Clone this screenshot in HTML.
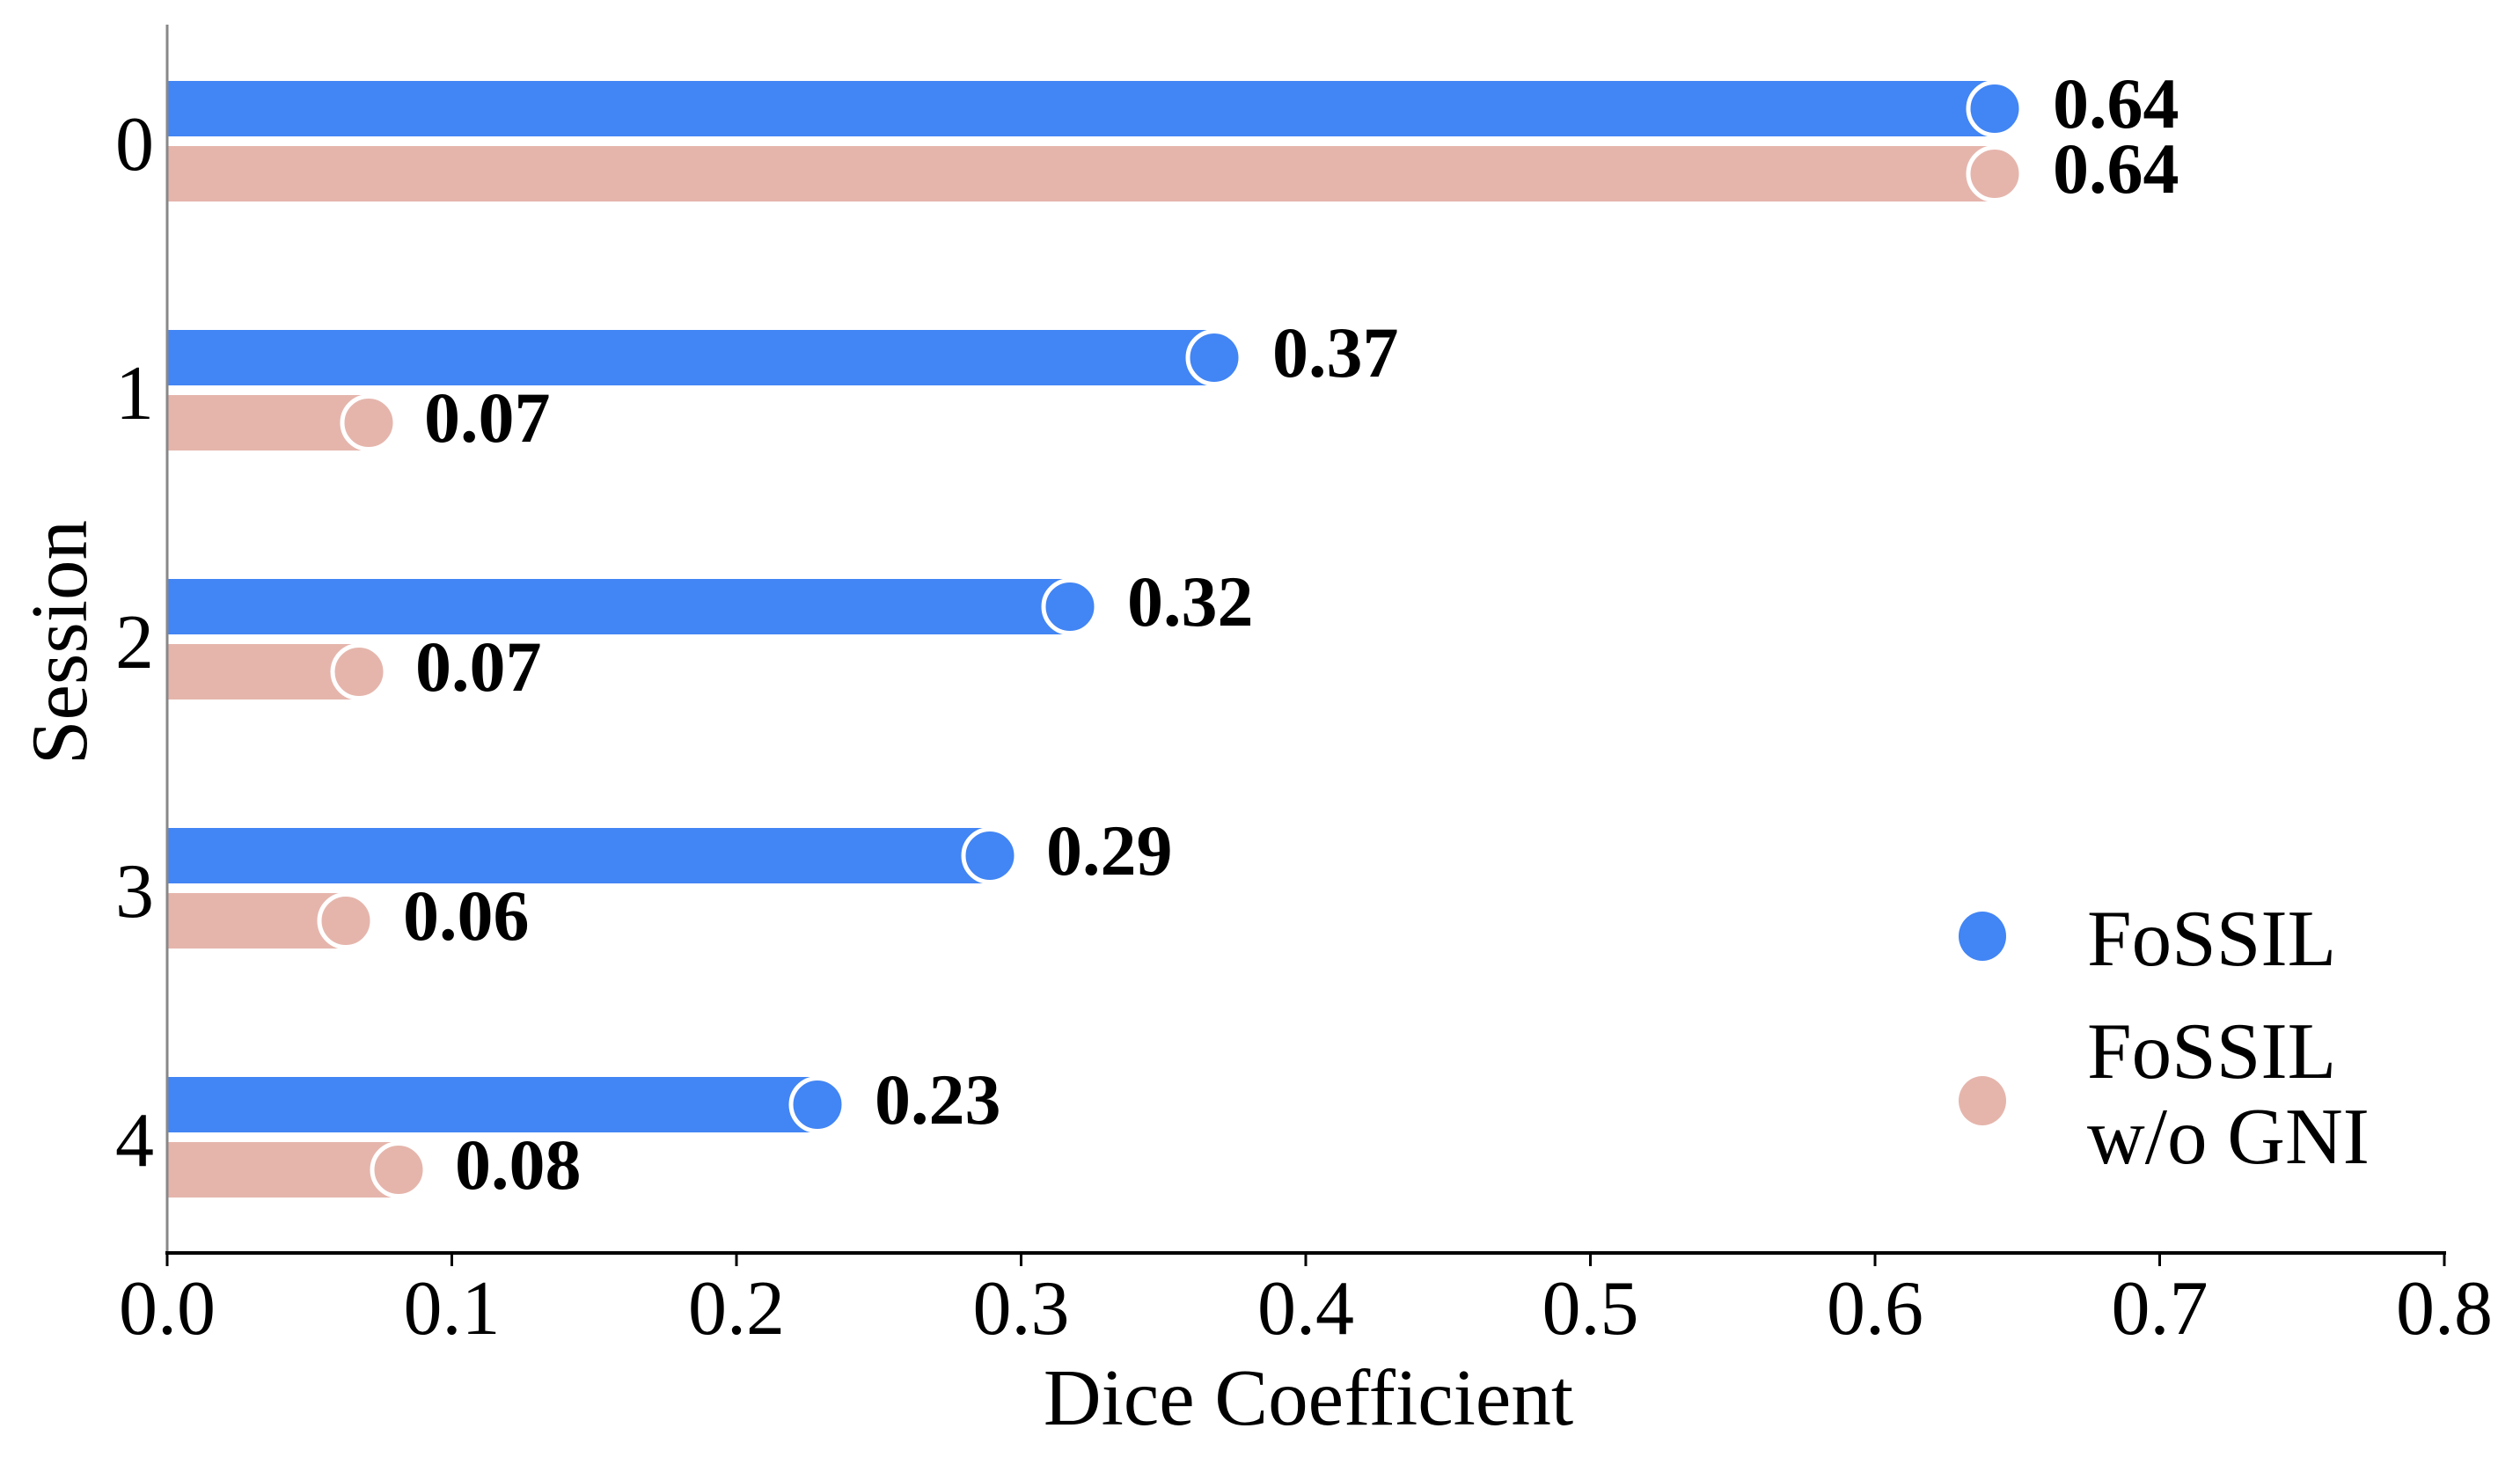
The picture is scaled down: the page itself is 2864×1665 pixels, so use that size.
<!DOCTYPE html>
<html><head><meta charset="utf-8"><style>html,body{margin:0;padding:0;background:#fff}svg{display:block}</style></head>
<body>
<svg width="2864" height="1665" viewBox="0 0 2864 1665" xmlns="http://www.w3.org/2000/svg" font-family="Liberation Serif, serif">
<rect width="2864" height="1665" fill="#fff"/>
<g id="bars">
<rect x="190" y="92" width="2077" height="63" fill="#4285F4"/>
<rect x="190" y="166" width="2077" height="63" fill="#E5B5AC"/>
<rect x="190" y="375" width="1190" height="63" fill="#4285F4"/>
<rect x="190" y="449" width="229" height="63" fill="#E5B5AC"/>
<rect x="190" y="658" width="1026" height="63" fill="#4285F4"/>
<rect x="190" y="732" width="218" height="63" fill="#E5B5AC"/>
<rect x="190" y="941" width="935" height="63" fill="#4285F4"/>
<rect x="190" y="1015" width="203" height="63" fill="#E5B5AC"/>
<rect x="190" y="1224" width="739" height="63" fill="#4285F4"/>
<rect x="190" y="1298" width="263" height="63" fill="#E5B5AC"/>
</g>
<g stroke="#fff" stroke-width="5">
<circle cx="2267" cy="123.5" r="30" fill="#4285F4"/>
<circle cx="2267" cy="197.5" r="30" fill="#E5B5AC"/>
<circle cx="1380" cy="406.5" r="30" fill="#4285F4"/>
<circle cx="419" cy="480.5" r="30" fill="#E5B5AC"/>
<circle cx="1216" cy="689.5" r="30" fill="#4285F4"/>
<circle cx="408" cy="763.5" r="30" fill="#E5B5AC"/>
<circle cx="1125" cy="972.5" r="30" fill="#4285F4"/>
<circle cx="393" cy="1046.5" r="30" fill="#E5B5AC"/>
<circle cx="929" cy="1255.5" r="30" fill="#4285F4"/>
<circle cx="453" cy="1329.5" r="30" fill="#E5B5AC"/>
</g>
<g font-size="82" font-weight="bold" fill="#000">
<text x="2333" y="145">0.64</text>
<text x="2333" y="219">0.64</text>
<text x="1446" y="428">0.37</text>
<text x="482" y="502">0.07</text>
<text x="1281" y="711">0.32</text>
<text x="472" y="785">0.07</text>
<text x="1189" y="994">0.29</text>
<text x="458" y="1068">0.06</text>
<text x="994" y="1277">0.23</text>
<text x="517" y="1351">0.08</text>
</g>
<line x1="190" y1="28" x2="190" y2="1425" stroke="#888" stroke-width="3"/>
<line x1="188" y1="1424" x2="2780" y2="1424" stroke="#000" stroke-width="4"/>
<g stroke="#000" stroke-width="3">
<line x1="190" y1="1424" x2="190" y2="1439"/>
<line x1="513.5" y1="1424" x2="513.5" y2="1439"/>
<line x1="837" y1="1424" x2="837" y2="1439"/>
<line x1="1160.5" y1="1424" x2="1160.5" y2="1439"/>
<line x1="1484" y1="1424" x2="1484" y2="1439"/>
<line x1="1807.5" y1="1424" x2="1807.5" y2="1439"/>
<line x1="2131" y1="1424" x2="2131" y2="1439"/>
<line x1="2454.5" y1="1424" x2="2454.5" y2="1439"/>
<line x1="2778" y1="1424" x2="2778" y2="1439"/>
</g>
<g font-size="88" text-anchor="middle" fill="#000">
<text x="190" y="1516">0.0</text>
<text x="513.5" y="1516">0.1</text>
<text x="837" y="1516">0.2</text>
<text x="1160.5" y="1516">0.3</text>
<text x="1484" y="1516">0.4</text>
<text x="1807.5" y="1516">0.5</text>
<text x="2131" y="1516">0.6</text>
<text x="2454.5" y="1516">0.7</text>
<text x="2778" y="1516">0.8</text>
<text x="1487" y="1619" font-size="91">Dice Coefficient</text>
</g>
<g font-size="88" text-anchor="end" fill="#000">
<text x="175" y="193">0</text>
<text x="175" y="476">1</text>
<text x="175" y="759">2</text>
<text x="175" y="1042">3</text>
<text x="175" y="1325">4</text>
</g>
<text x="0" y="0" font-size="91" text-anchor="middle" transform="translate(98,730) rotate(-90)">Session</text>
<ellipse cx="2253" cy="1064" rx="27" ry="28" fill="#4285F4"/>
<ellipse cx="2253" cy="1251" rx="27" ry="28" fill="#E5B5AC"/>
<g font-size="91" fill="#000">
<text x="2372" y="1097">FoSSIL</text>
<text x="2372" y="1225">FoSSIL</text>
<text x="2372" y="1322">w/o GNI</text>
</g>
</svg>
</body></html>
